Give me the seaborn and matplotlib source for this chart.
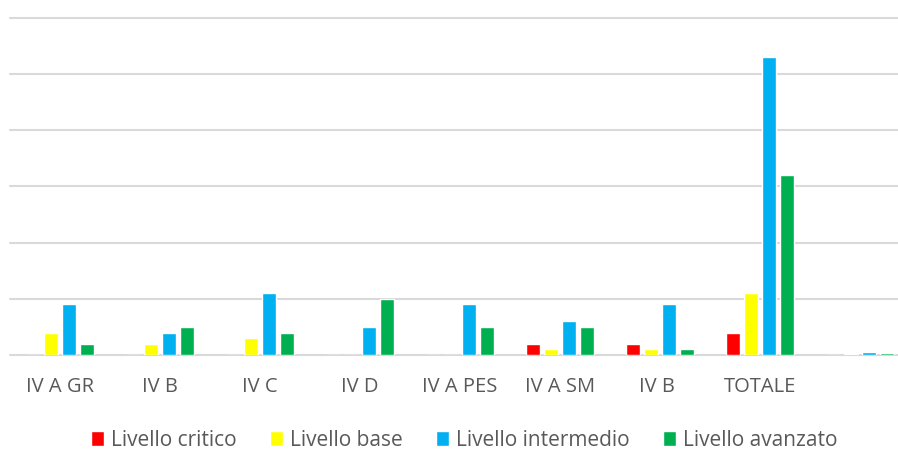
import matplotlib
matplotlib.use("Agg")
import matplotlib.pyplot as plt
import seaborn as sns
import pandas as pd

categories = ["IV A GR", "IV B", "IV C", "IV D", "IV A PES", "IV A SM", "IV B ", "TOTALE", ""]
series = ["Livello critico", "Livello base", "Livello intermedio", "Livello avanzato"]
critico = [0, 0, 0, 0, 0, 2, 2, 4, 0.04]
base = [4, 2, 3, 0, 0, 1, 1, 11, 0.11]
intermedio = [9, 4, 11, 5, 9, 6, 9, 53, 0.53]
avanzato = [2, 5, 4, 10, 5, 5, 1, 32, 0.32]
colors = ["#FF0000", "#FFFF00", "#00B0F0", "#00B050"]

rows = []
for s, vals in zip(series, [critico, base, intermedio, avanzato]):
    for c, v in zip(categories, vals):
        rows.append({"cat": c, "serie": s, "val": v})
df = pd.DataFrame(rows)

sns.set_theme(style="white")
plt.rcParams["font.family"] = ["Open Sans", "DejaVu Sans"]

fig = plt.figure(figsize=(8.98, 4.5), dpi=100)
ax = fig.add_axes([10 / 898, 95 / 450, 900 / 898, 337.5 / 450])
sns.barplot(data=df, x="cat", y="val", hue="serie", order=categories, hue_order=series,
            palette=colors, width=0.72, gap=0.22, ax=ax, legend=True, saturation=1)

ax.set_ylim(0, 60)
ax.set_yticks(range(0, 61, 10))
ax.set_yticklabels([])
ax.tick_params(axis="y", length=0)
ax.yaxis.grid(True, color="#D9D9D9", linewidth=1.5)
for gl in ax.get_ygridlines():
    gl.set_clip_on(False)
ax.set_axisbelow(True)
for sp in ax.spines.values():
    sp.set_visible(False)
ax.set_xlabel("")
ax.set_ylabel("")
ax.tick_params(axis="x", length=0, pad=16, labelsize=14.5, labelcolor="#595959")
ax.set_xlim(-0.5, len(categories) - 0.5)

handles, labels = ax.get_legend_handles_labels()
ax.legend_.remove()
fig.legend(handles, labels, loc="center", bbox_to_anchor=(0.517, 1 - 440 / 450),
           ncol=4, frameon=False, fontsize=15, labelcolor="#595959",
           handlelength=0.62, handleheight=0.72, handletextpad=0.35, columnspacing=1.6)

fig.savefig("out.png", dpi=100)
